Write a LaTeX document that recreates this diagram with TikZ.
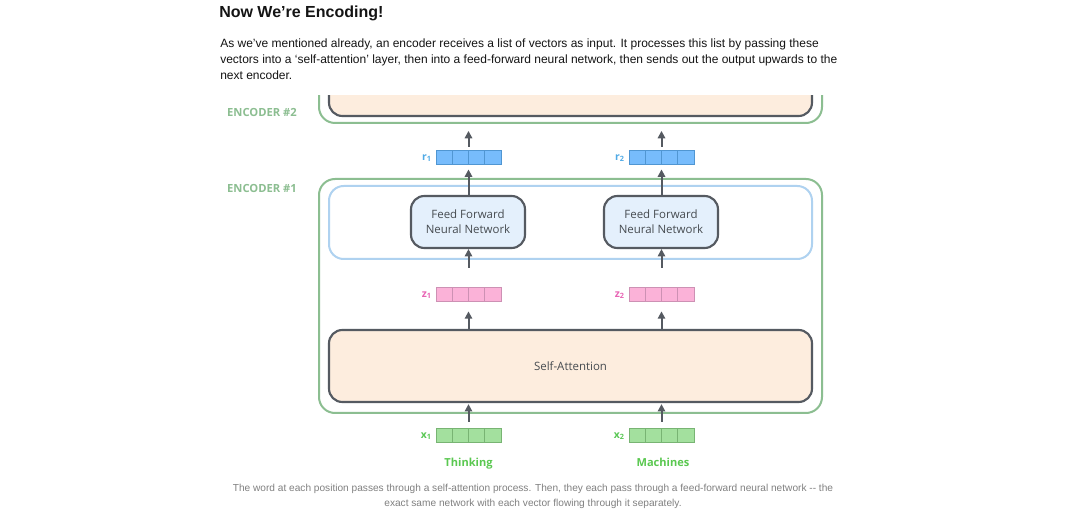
\documentclass[tikz,border=0pt]{standalone}
\usepackage{fontspec}
\setmainfont{Liberation Sans}
\newfontfamily\osans{Open Sans}
\usetikzlibrary{arrows.meta,calc,fit}
\definecolor{encgreen}{RGB}{140,190,145}
\definecolor{ffline}{RGB}{175,210,240}
\definecolor{darkline}{RGB}{85,90,97}
\definecolor{safill}{RGB}{253,237,222}
\definecolor{fffill}{RGB}{228,240,252}
\definecolor{rfill}{RGB}{119,188,252}
\definecolor{rline}{RGB}{80,150,210}
\definecolor{zfill}{RGB}{251,178,216}
\definecolor{zline}{RGB}{205,145,180}
\definecolor{xfill}{RGB}{163,224,158}
\definecolor{xline}{RGB}{120,180,115}
\definecolor{rlab}{RGB}{80,170,230}
\definecolor{zlab}{RGB}{232,100,180}
\definecolor{xlab}{RGB}{90,200,85}
\definecolor{wordgreen}{RGB}{90,200,80}
\definecolor{textdark}{RGB}{20,20,20}
\definecolor{captgray}{RGB}{128,128,128}
\definecolor{boxtext}{RGB}{70,75,80}
\begin{document}
\begin{tikzpicture}[x=0.75pt,y=-0.75pt,
  outerbox/.style={draw=encgreen,line width=1.5pt,rounded corners=12pt,inner sep=0pt},
  ffbox/.style={draw=ffline,line width=1.5pt,rounded corners=11pt,inner sep=0pt},
  darkbox/.style={draw=darkline,line width=1.6pt,rounded corners=10pt,inner sep=0pt,
    font=\osans\fontsize{8.6}{11.25}\selectfont,text=boxtext,align=center},
  vecbox/.style={draw=#1,line width=0.6pt,inner sep=0pt,
    path picture={\foreach \i in {1,2,3}{\draw[#1,line width=0.6pt]
      ($(path picture bounding box.south west)!\i/4!(path picture bounding box.south east)$) --
      ($(path picture bounding box.north west)!\i/4!(path picture bounding box.north east)$);}}},
  veclab/.style={font=\osans\bfseries\fontsize{7.8}{9}\selectfont,anchor=east,inner sep=0pt},
  enclab/.style={font=\osans\bfseries\fontsize{8.4}{10}\selectfont,text=encgreen,inner sep=0pt},
  word/.style={font=\osans\bfseries\fontsize{8.3}{10}\selectfont,text=wordgreen,inner sep=0pt,anchor=base},
  arr/.style={draw=darkline,line width=1.5pt,-{Triangle[length=5.5pt,width=5.5pt]}},
  para/.style={font=\fontsize{9}{12}\selectfont,text=textdark,anchor=base west,inner sep=0pt},
  capt/.style={font=\fontsize{7.6}{10}\selectfont,text=captgray,anchor=base,inner sep=0pt}
]
\useasboundingbox (0,0) rectangle (1076,527);
\fill[white] (0,0) rectangle (1076,527);

% heading and text
\node[font=\bfseries\fontsize{12}{14}\selectfont,text=textdark,anchor=base west,inner sep=0pt] (title) at (219,18) {Now We’re Encoding!};
\node[para] (p1) at (220,48) {As we’ve mentioned already, an encoder receives a list of vectors as input. It processes this list by passing these};
\node[para] (p2) at (220,64) {vectors into a ‘self-attention’ layer, then into a feed-forward neural network, then sends out the output upwards to the};
\node[para] (p3) at (220,80) {next encoder.};

% encoder 2 (cut off at the top)
\begin{scope}
\clip (0,96) rectangle (1076,140);
\node[outerbox,fit={(319,50) (822,123)}] (enc2) {};
\node[darkbox,fill=safill,fit={(329,40) (812,116)}] (sa2) {};
\end{scope}
\node[enclab] (enc2lab) at (262,112) {ENCODER \#2};

% encoder 1
\node[outerbox,fit={(319,179) (822,413)}] (enc1) {};
\node[enclab] (enc1lab) at (262,188) {ENCODER \#1};
\node[ffbox,fit={(329,186) (812,259)}] (fflayer) {};
\node[darkbox,fill=fffill,minimum width=85.5pt,minimum height=39pt] (ff1) at (468,222) {Feed Forward\\Neural Network};
\node[darkbox,fill=fffill,minimum width=85.5pt,minimum height=39pt] (ff2) at (661,222) {Feed Forward\\Neural Network};
\node[darkbox,fill=safill,minimum width=362.25pt,minimum height=54pt] (sa) at (570.5,366) {Self-Attention};

% vectors
\node[vecbox=rline,fill=rfill,fit={(436,150) (501,164)}] (r1) {};
\node[vecbox=rline,fill=rfill,fit={(629,150) (694,164)}] (r2) {};
\node[vecbox=zline,fill=zfill,fit={(436,287) (501,301)}] (z1) {};
\node[vecbox=zline,fill=zfill,fit={(629,287) (694,301)}] (z2) {};
\node[vecbox=xline,fill=xfill,fit={(436,428) (501,442)}] (x1) {};
\node[vecbox=xline,fill=xfill,fit={(629,428) (694,442)}] (x2) {};

\node[veclab,text=rlab] (r1lab) at (432,158) {r\textsubscript{1}};
\node[veclab,text=rlab] (r2lab) at (625,158) {r\textsubscript{2}};
\node[veclab,text=zlab] (z1lab) at (432,295) {z\textsubscript{1}};
\node[veclab,text=zlab] (z2lab) at (625,295) {z\textsubscript{2}};
\node[veclab,text=xlab] (x1lab) at (432,436) {x\textsubscript{1}};
\node[veclab,text=xlab] (x2lab) at (625,436) {x\textsubscript{2}};

\node[word] (w1) at (468.5,467) {Thinking};
\node[word] (w2) at (663,467) {Machines};

% arrows
\foreach \c in {1,2}{
  \draw[arr,shorten <=4.5pt,shorten >=0.8pt] (x\c.north) -- (x\c.north |- sa.south);
  \draw[arr,shorten >=7.5pt] (z\c.south |- sa.north) -- (z\c.south);
  \draw[arr,shorten <=14.2pt] (z\c.north) -- (z\c.north |- ff\c.south);
  \draw[arr,shorten >=3.8pt] (r\c.south |- ff\c.north) -- (r\c.south);
  \draw[arr,shorten <=2.2pt,shorten >=5.2pt] (r\c.north) -- (r\c.north |- enc2.south);
}

% caption
\node[capt] (c1) at (533,492) {The word at each position passes through a self-attention process. Then, they each pass through a feed-forward neural network -{}- the};
\node[capt] (c2) at (533,507) {exact same network with each vector flowing through it separately.};
\end{tikzpicture}
\end{document}
